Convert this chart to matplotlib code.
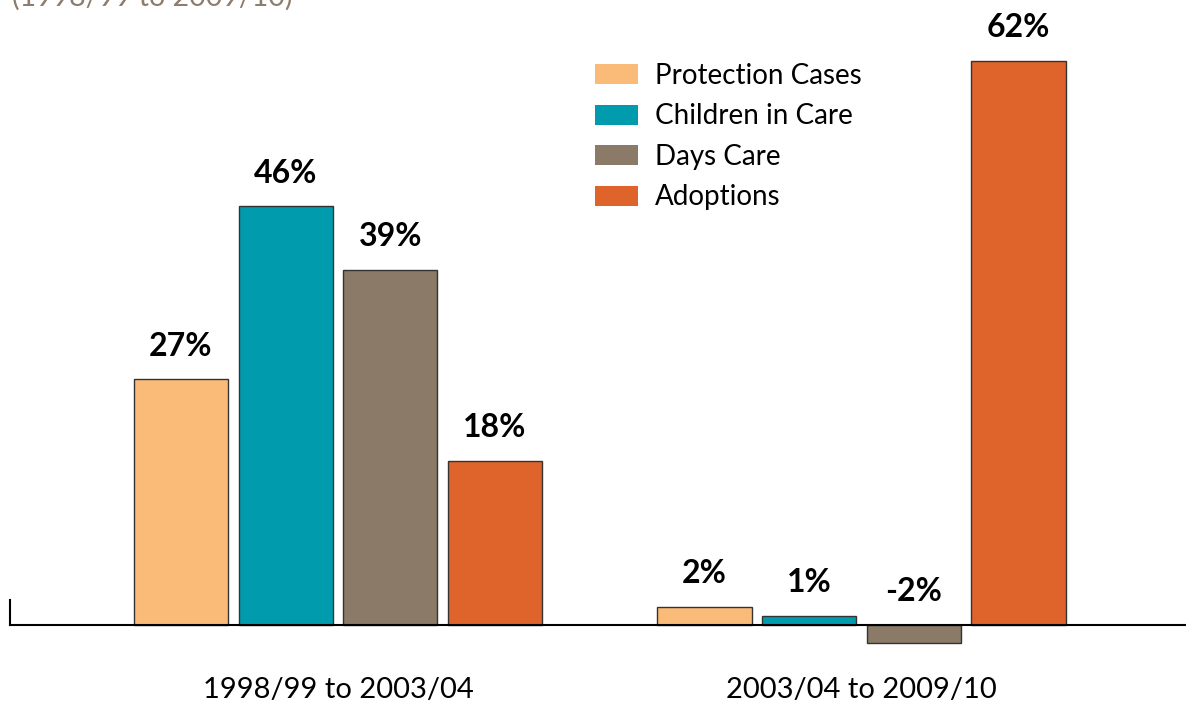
import matplotlib
matplotlib.use("Agg")
import matplotlib.pyplot as plt
import numpy as np
from matplotlib.patches import Patch

periods = ["1998/99 to 2003/04", "2003/04 to 2009/10"]
series = ["Protection Cases", "Children in Care", "Days Care", "Adoptions"]
values = {
    "Protection Cases": [27, 2],
    "Children in Care": [46, 1],
    "Days Care": [39, -2],
    "Adoptions": [18, 62],
}
colors = ["#FBBB78", "#009CAD", "#8A7A67", "#DE642C"]
subtitle = "(1998/99 to 2009/10)"

plt.rcParams['font.family'] = ['Lato', 'DejaVu Sans']

W, H = 1186, 702
fig = plt.figure(figsize=(W/100, H/100), dpi=100)
ax = fig.add_axes([10/W, 0, 1176/W, 1])

x = np.arange(len(periods))
step = 0.2
width = 0.18
for i, (name, col) in enumerate(zip(series, colors)):
    offs = (i - 1.5) * step
    vals = values[name]
    ax.bar(x + offs, vals, width, color=col, edgecolor="#333333", linewidth=1, zorder=2)
    for xi, v in zip(x, vals):
        ax.annotate(f"{v}%", (xi + offs, max(v, 0)), xytext=(0, 13.5), textcoords="offset points",
                    ha="center", va="bottom", fontsize=23, fontweight="bold", color="black")

ax.set_xlim(-0.6266, 1.62)
ax.set_ylim(-8.46, 68.68)
for s in ["top", "right"]:
    ax.spines[s].set_visible(False)
ax.spines["bottom"].set_position(("data", 0))
ax.spines["bottom"].set_linewidth(1.5)
ax.spines["left"].set_bounds(0, 2.75)
ax.spines["left"].set_linewidth(1.5)
ax.set_yticks([])
ax.set_xticks(x)
ax.set_xticklabels(periods, fontsize=21)
ax.tick_params(axis="x", length=0, pad=37.5)

handles = [Patch(facecolor=c, edgecolor="none", label=n) for n, c in zip(series, colors)]
fig.legend(handles=handles, loc="upper left", bbox_to_anchor=(595/W, 1 - 63/H),
           frameon=False, fontsize=20, handlelength=1.55, handleheight=0.72,
           handletextpad=0.61, labelspacing=0.52, borderpad=0, borderaxespad=0)

fig.text(12/W, 1 - 6/H, subtitle, fontsize=20.5, color="#8C7D6E", ha="left", va="baseline")

fig.savefig("out.png", dpi=100)
